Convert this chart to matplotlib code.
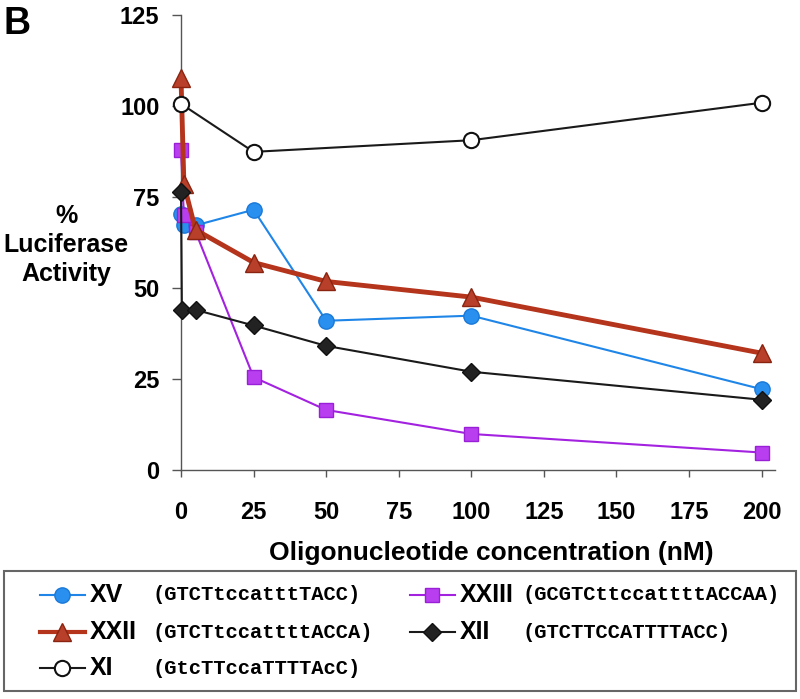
import matplotlib
matplotlib.use("Agg")
import matplotlib.pyplot as plt
from matplotlib.lines import Line2D
from matplotlib.patches import Rectangle

plt.rcParams['font.family'] = ['Liberation Sans', 'DejaVu Sans']

# concentrations (nM) and % luciferase activity
xv_x = [0, 1, 5, 25, 50, 100, 200]
xv_y = [70.4, 67.2, 67.2, 71.5, 41.0, 42.4, 22.2]

xxiii_x = [0, 1, 5, 25, 50, 100, 200]
xxiii_y = [87.9, 70.0, 65.5, 25.5, 16.5, 9.9, 4.8]

xxii_x = [0, 1, 5, 25, 50, 100, 200]
xxii_y = [107.8, 78.5, 66.0, 57.0, 51.8, 47.5, 32.1]

xii_x = [0, 0.3, 5, 25, 50, 100, 200]
xii_y = [76.5, 44.0, 44.0, 39.7, 34.1, 27.0, 19.3]

xi_x = [0, 25, 100, 200]
xi_y = [100.6, 87.4, 90.6, 100.9]

names = ["XV", "XXIII", "XXII", "XII", "XI"]
seqs = ["(GTCTtccatttTACC)", "(GCGTCttccattttACCAA)", "(GTCTtccattttACCA)",
        "(GTCTTCCATTTTACC)", "(GtcTTccaTTTTAcC)"]
xticks = [0, 25, 50, 75, 100, 125, 150, 175, 200]
yticks = [0, 25, 50, 75, 100, 125]

styles = {
    "XV": dict(color="#1f86e8", lw=1.5, marker="o", ms=11, mfc="#2a90f0", mec="#1a78d8", mew=1),
    "XXIII": dict(color="#a322e0", lw=1.5, marker="s", ms=9.5, mfc="#b83ef0", mec="#9a20d8", mew=1),
    "XXII": dict(color="#b5341c", lw=3.5, marker="^", ms=13, mfc="#b8402a", mec="#8a2410", mew=1),
    "XII": dict(color="#1a1a1a", lw=1.5, marker="D", ms=9.5, mfc="#222222", mec="#111111", mew=1),
    "XI": dict(color="#1a1a1a", lw=1.5, marker="o", ms=11, mfc="white", mec="#111111", mew=1.5),
}
data = {"XV": (xv_x, xv_y), "XXIII": (xxiii_x, xxiii_y), "XXII": (xxii_x, xxii_y),
        "XII": (xii_x, xii_y), "XI": (xi_x, xi_y)}

W, H = 800, 699
fig = plt.figure(figsize=(8, 6.99), dpi=100)
ax = fig.add_axes([181 / W, 1 - 470 / H, (775 - 181) / W, (470 - 15) / H])

for nm in names:
    x, y = data[nm]
    ax.plot(x, y, clip_on=False, zorder=3, **styles[nm])

ax.set_xlim(0, 204.6)
ax.set_ylim(0, 125)
ax.set_xticks(xticks)
ax.set_yticks(yticks)
for s in ["top", "right"]:
    ax.spines[s].set_visible(False)
for s in ["left", "bottom"]:
    ax.spines[s].set_color("#555555")
    ax.spines[s].set_linewidth(1)
ax.tick_params(axis="y", direction="out", length=6.5, width=1, color="#555555",
               labelsize=17, pad=9)
ax.tick_params(axis="x", direction="out", length=5, width=1, color="#555555",
               labelsize=17, pad=17)
for lab in ax.get_xticklabels() + ax.get_yticklabels():
    lab.set_fontweight("bold")

fig.text(491 / W, 1 - 553 / H, "Oligonucleotide concentration (nM)", ha="center", va="center",
         fontsize=19, fontweight="bold")
fig.text(66 / W, 1 - 245 / H, "%\nLuciferase\nActivity", ha="center", va="center",
         fontsize=18, fontweight="bold", linespacing=1.25)
fig.text(3 / W, 1 - 6 / H, "B", ha="left", va="top", fontsize=27, fontweight="bold")

# legend box drawn by hand so that names and sequences use different fonts
fig.patches.append(Rectangle((4 / W, 1 - 691 / H), 792 / W, 120 / H, transform=fig.transFigure,
                             fill=False, edgecolor="#666666", lw=1.5))
cols = {"XV": (40, 595), "XXII": (40, 632), "XI": (40, 668), "XXIII": (410, 595), "XII": (410, 632)}
for nm, sq in zip(names, seqs):
    x0, yc = cols[nm]
    st = dict(styles[nm])
    st["lw"] = min(st["lw"], 3)
    fig.lines.append(Line2D([x0 / W, (x0 + 45) / W], [1 - yc / H] * 2, transform=fig.transFigure,
                            color=st.pop("color"), lw=st.pop("lw")))
    fig.lines.append(Line2D([(x0 + 22) / W], [1 - yc / H], transform=fig.transFigure,
                            linestyle="none", **st))
    fig.text((x0 + 50) / W, 1 - yc / H, nm, ha="left", va="center", fontsize=18, fontweight="bold")
    fig.text((x0 + 113) / W, 1 - yc / H, sq, ha="left", va="center", fontsize=14.8,
             fontweight="bold", family=["Liberation Mono", "DejaVu Sans Mono"])

fig.savefig("out.png", dpi=100)
